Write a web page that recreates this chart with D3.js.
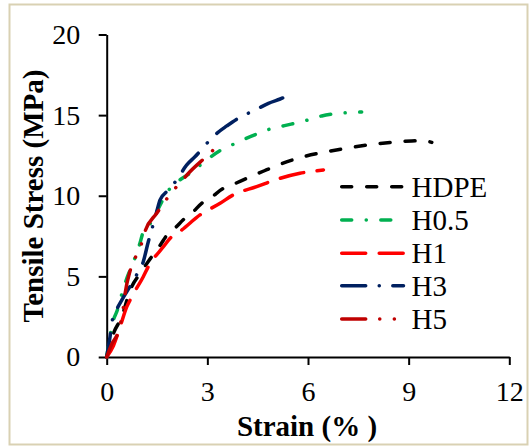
<!DOCTYPE html>
<html>
<head>
    <script type="text/javascript" src="https://d3js.org/d3.v7.min.js"></script>
    <style>
        body { margin: 0; background: #fff; }
        text { font-family: "Liberation Serif", "Times New Roman", serif; }
    </style>
</head>
<body>
    <div id="svgcontainer"></div>
    <script>
        var width = 529;
        var height = 446;

        // tick labels
        var xTicks = [0, 3, 6, 9, 12];
        var yTicks = [0, 5, 10, 15, 20];

        // series names
        var seriesNames = ["HDPE", "H0.5", "H1", "H3", "H5"];

        // strain (%) / stress (MPa)
        var hdpeStrain = [0, 0.2, 0.45, 0.7, 1.0, 1.3, 1.6, 1.8, 2.0, 2.33, 2.53, 2.83, 3.08, 3.48, 3.73, 4.2, 4.7, 5.17, 5.86, 6.56, 7.25, 8.0, 8.69, 9.09, 9.44, 9.69];
        var hdpeStress = [0, 1.45, 2.5, 4.15, 5.2, 6.1, 6.95, 7.57, 7.92, 8.6, 8.91, 9.53, 9.84, 10.46, 10.67, 11.1, 11.55, 11.95, 12.42, 12.73, 12.98, 13.21, 13.35, 13.4, 13.41, 13.31];

        var h05Strain = [0, 0.2, 0.3, 0.5, 0.6, 0.8, 0.99, 1.09, 1.34, 1.49, 1.89, 2.18, 2.48, 2.98, 3.36, 3.73, 4.52, 4.87, 5.3, 5.91, 6.41, 6.75, 7.15, 7.6];
        var h05Stress = [0, 2.29, 2.81, 4.26, 4.88, 5.91, 7.05, 7.77, 8.39, 9.01, 10.46, 10.98, 11.39, 12.22, 12.78, 13.15, 13.87, 14.14, 14.35, 14.65, 14.95, 15.07, 15.15, 15.19];

        var h1Strain = [0, 0.2, 0.4, 0.6, 0.75, 1.09, 1.24, 1.69, 1.89, 2.24, 2.78, 3.38, 3.77, 4.47, 5.17, 5.76, 6.46];
        var h1Stress = [0, 0.7, 1.88, 3.12, 3.74, 4.98, 5.6, 6.84, 7.36, 7.88, 8.81, 9.53, 10.05, 10.56, 11.08, 11.39, 11.6];

        var h3Strain = [0, 0.05, 0.1, 0.15, 0.25, 0.45, 0.75, 0.89, 1.09, 1.24, 1.34, 1.49, 1.59, 1.84, 2.09, 2.38, 2.63, 3.28, 3.58, 3.87, 4.47, 4.82, 5.17, 5.4];
        var h3Stress = [0, 0.64, 1.26, 2.09, 2.71, 3.53, 4.57, 5.09, 5.91, 7.15, 7.88, 9.01, 9.74, 10.36, 10.98, 11.9, 12.42, 13.87, 14.33, 14.74, 15.36, 15.73, 16.0, 16.2];

        var h5Strain = [0, 0.15, 0.35, 0.5, 0.55, 0.69, 0.8, 1.04, 1.14, 1.49, 1.84, 2.04, 2.24, 2.48, 2.93, 3.18, 3.46];
        var h5Stress = [0, 0.8, 1.6, 3.12, 3.95, 5.29, 5.91, 7.05, 7.77, 8.91, 9.94, 10.46, 10.93, 11.49, 12.36, 12.84, 13.25];

        var colors = ["#000000", "#00b050", "#ff0000", "#002060", "#c00000"];
        var dashes = ["10,15", "10,14.5,0.1,14.5", "24,13.5", "24,13.5,0.1,13.5", "24,14,0.1,14.5,0.1,14"];

        var series = [
            { name: seriesNames[0], x: hdpeStrain, y: hdpeStress },
            { name: seriesNames[1], x: h05Strain, y: h05Stress },
            { name: seriesNames[2], x: h1Strain, y: h1Stress },
            { name: seriesNames[3], x: h3Strain, y: h3Stress },
            { name: seriesNames[4], x: h5Strain, y: h5Stress }
        ];

        var svg = d3.select("#svgcontainer")
            .append("svg")
            .attr("width", width)
            .attr("height", height);

        svg.append("rect")
            .attr("x", 9.5).attr("y", 4.5)
            .attr("width", 518).attr("height", 440)
            .attr("fill", "#fff")
            .attr("stroke", "#d9d1b3").attr("stroke-width", 2);

        var x = d3.scaleLinear().domain([0, 12]).range([106.7, 509.3]);
        var y = d3.scaleLinear().domain([0, 20]).range([357, 34.5]);

        var xAxis = svg.append("g")
            .attr("transform", "translate(0," + y(0) + ")")
            .call(d3.axisBottom(x).tickValues(xTicks).tickSize(8).tickSizeOuter(0).tickPadding(16));
        var yAxis = svg.append("g")
            .attr("transform", "translate(" + x(0) + ",0)")
            .call(d3.axisLeft(y).tickValues(yTicks).tickSize(8).tickSizeOuter(0).tickPadding(18.5));

        [xAxis, yAxis].forEach(function (g) {
            g.select(".domain").attr("stroke", "#000").attr("stroke-width", 2);
            g.selectAll(".tick line").attr("stroke", "#000").attr("stroke-width", 2);
            g.selectAll(".tick text")
                .attr("fill", "#000")
                .style("font-family", "'Liberation Serif', serif")
                .style("font-size", "28px");
        });

        var line = d3.line()
            .x(function (d) { return x(d[0]); })
            .y(function (d) { return y(d[1]); })
            .curve(d3.curveMonotoneX);

        series.forEach(function (s, i) {
            var pts = s.x.map(function (v, j) { return [v, s.y[j]]; });
            svg.append("path")
                .attr("d", line(pts))
                .attr("fill", "none")
                .attr("stroke", colors[i])
                .attr("stroke-width", 3.5)
                .attr("stroke-linecap", "round")
                .attr("stroke-dasharray", dashes[i]);
        });

        // legend
        var legendY = [186.7, 220, 253.3, 285.7, 319];
        series.forEach(function (s, i) {
            svg.append("line")
                .attr("x1", 341.7).attr("x2", 403.5)
                .attr("y1", legendY[i]).attr("y2", legendY[i])
                .attr("stroke", colors[i])
                .attr("stroke-width", 3.5)
                .attr("stroke-linecap", "round")
                .attr("stroke-dasharray", dashes[i]);
            svg.append("text")
                .attr("x", 411.5).attr("y", legendY[i] + 10)
                .style("font-size", "29px")
                .text(s.name);
        });

        // axis titles
        svg.append("text")
            .attr("x", 307).attr("y", 436)
            .attr("text-anchor", "middle")
            .style("font-size", "29px").style("font-weight", "bold")
            .text("Strain (% )");

        svg.append("text")
            .attr("transform", "translate(43,196) rotate(-90)")
            .attr("text-anchor", "middle")
            .style("font-size", "29px").style("font-weight", "bold")
            .text("Tensile Stress (MPa)");
    </script>
</body>
</html>
